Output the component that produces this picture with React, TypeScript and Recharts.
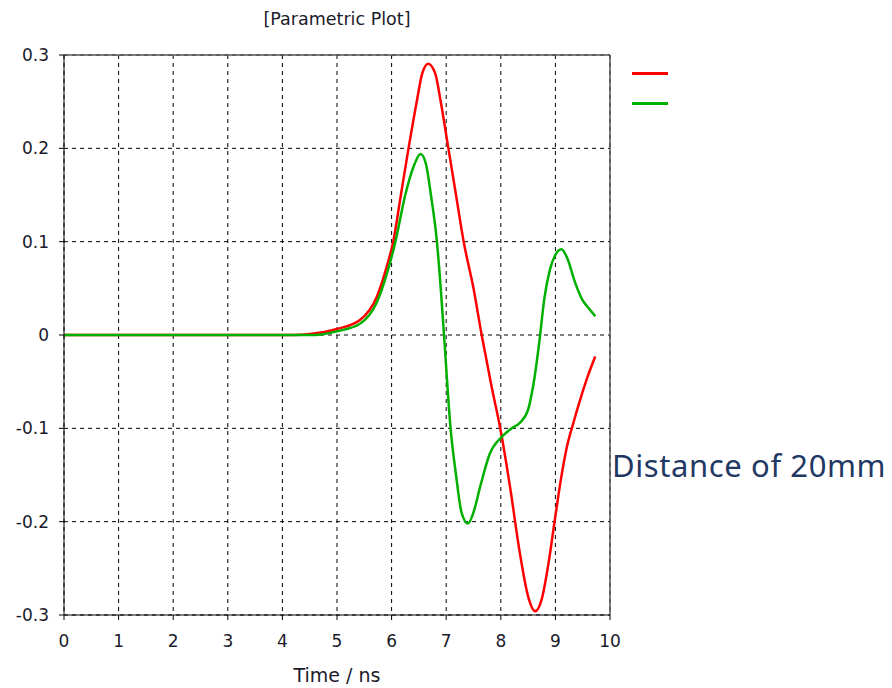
import React from 'react';
import { LineChart, Line, XAxis, YAxis, CartesianGrid, ReferenceLine } from 'recharts';

// red trace (time in ns, amplitude)
const redTime = [0, 4.2, 4.5, 5.0, 5.42, 5.73, 5.91, 6.03, 6.17, 6.31, 6.46, 6.56, 6.67, 6.8, 6.9, 7.04, 7.18, 7.32, 7.5, 7.65, 7.83, 7.99, 8.17, 8.35, 8.5, 8.63, 8.75, 8.87, 8.99, 9.1, 9.21, 9.33, 9.45, 9.6, 9.73];
const redValues = [0, 0, 0.001, 0.0064, 0.016, 0.041, 0.073, 0.1, 0.15, 0.2, 0.25, 0.28, 0.2907, 0.28, 0.25, 0.2, 0.15, 0.1, 0.05, 0, -0.055, -0.1, -0.163, -0.234, -0.28, -0.296, -0.283, -0.246, -0.198, -0.155, -0.12, -0.094, -0.07, -0.043, -0.023];

// green trace
const greenTime = [0, 4.6, 5.0, 5.42, 5.73, 5.91, 6.07, 6.25, 6.4, 6.53, 6.63, 6.72, 6.83, 6.9, 6.96, 7.08, 7.18, 7.28, 7.4, 7.5, 7.62, 7.8, 8.02, 8.2, 8.35, 8.5, 8.6, 8.7, 8.8, 8.9, 9.0, 9.11, 9.22, 9.35, 9.5, 9.62, 9.73];
const greenValues = [0, 0, 0.004, 0.012, 0.035, 0.065, 0.1, 0.15, 0.18, 0.194, 0.183, 0.15, 0.1, 0.05, 0, -0.1, -0.15, -0.19, -0.202, -0.19, -0.163, -0.127, -0.109, -0.1, -0.094, -0.08, -0.052, -0.01, 0.04, 0.07, 0.086, 0.092, 0.082, 0.058, 0.037, 0.028, 0.02];

const xTicks = [0, 1, 2, 3, 4, 5, 6, 7, 8, 9, 10];
const yTicks = [-0.3, -0.2, -0.1, 0, 0.1, 0.2, 0.3];

const redData = redTime.map((t, i) => ({ t, v: redValues[i] }));
const greenData = greenTime.map((t, i) => ({ t, v: greenValues[i] }));

const FONT = '"DejaVu Sans", sans-serif';
const tickStyle = { fontSize: 17, fill: '#1a1a2a', fontFamily: FONT };

export default function App() {
  return (
    <div style={{ position: 'absolute', left: 0, top: 0, width: 892, height: 688, background: '#fff' }}>
      <div
        style={{
          position: 'absolute',
          left: 64,
          width: 546,
          top: 9,
          textAlign: 'center',
          fontFamily: FONT,
          fontSize: 17.5,
          color: '#1a1a2a',
        }}
      >
        [Parametric Plot]
      </div>
      <LineChart width={892} height={688} data={redData} margin={{ top: 55, right: 282, left: 0, bottom: 3 }}>
        <CartesianGrid stroke="#000" strokeDasharray="4 4" fill="none" />
        <XAxis
          type="number"
          dataKey="t"
          domain={[0, 10]}
          ticks={xTicks}
          allowDataOverflow
          height={70}
          stroke="#000"
          tickSize={5}
          tickMargin={15}
          tick={tickStyle}
          label={{ value: 'Time / ns', position: 'insideBottom', offset: 3, style: { ...tickStyle, fontSize: 19 } }}
        />
        <YAxis
          type="number"
          domain={[-0.3, 0.3]}
          ticks={yTicks}
          allowDataOverflow
          width={64}
          stroke="#000"
          tickSize={5}
          tickMargin={10}
          tick={tickStyle}
          tickFormatter={(v: number) => (v === 0 ? '0' : String(Math.round(v * 10) / 10))}
        />
        <ReferenceLine y={0.3} stroke="#555" strokeWidth={1.5} />
        <ReferenceLine x={10} stroke="#555" strokeWidth={1.5} />
        <Line data={redData} dataKey="v" type="monotone" stroke="#ff0000" strokeWidth={2.5} dot={false} isAnimationActive={false} />
        <Line data={greenData} dataKey="v" type="monotone" stroke="#00b000" strokeWidth={2.5} dot={false} isAnimationActive={false} />
      </LineChart>
      <div style={{ position: 'absolute', left: 632, top: 72, width: 36, height: 3, background: '#ff0000' }} />
      <div style={{ position: 'absolute', left: 632, top: 102, width: 36, height: 3, background: '#00b000' }} />
      <div
        style={{
          position: 'absolute',
          left: 612,
          top: 450,
          fontFamily: '"Noto Sans", sans-serif',
          fontSize: 31,
          lineHeight: 1,
          letterSpacing: 0.6,
          color: '#1f3864',
          whiteSpace: 'nowrap',
        }}
      >
        Distance of 20mm
      </div>
    </div>
  );
}
